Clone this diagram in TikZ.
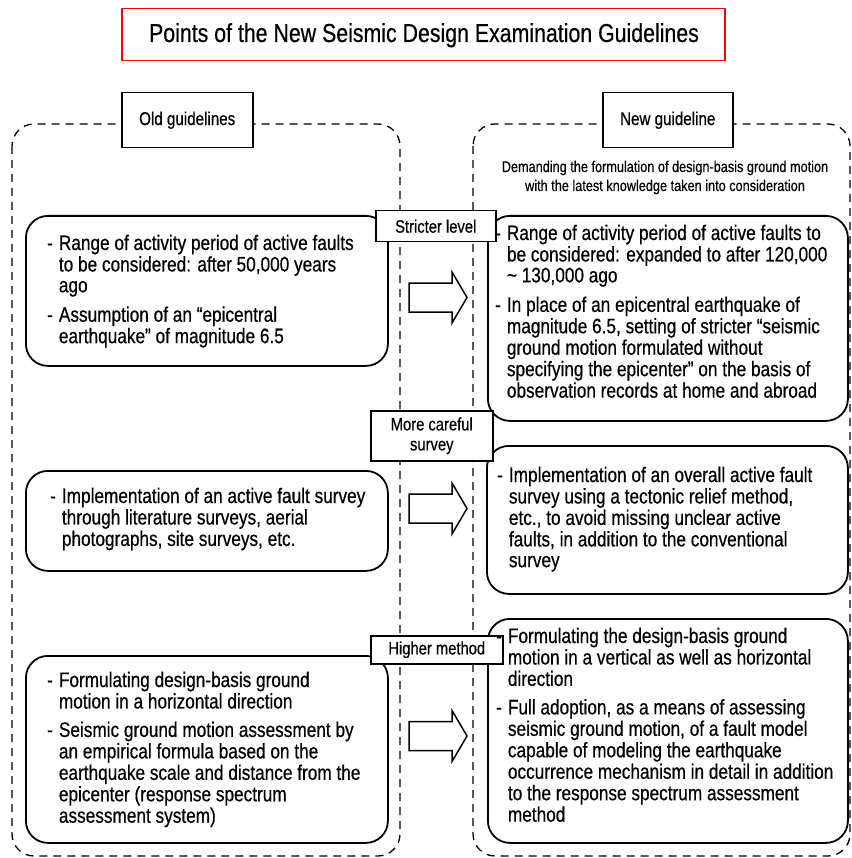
\documentclass[tikz,border=0pt]{standalone}
\usepackage{fontspec}
\newfontfamily\narrowsans{Liberation Sans}[FakeStretch=0.82,FakeBold=0.5]
\begin{document}
\begin{tikzpicture}[x=1pt,y=-1pt,
  container/.style={draw, line width=1.3pt, dash pattern=on 8pt off 6pt, rounded corners=22pt},
  itembox/.style={draw, line width=1.8pt, rounded corners=22pt, fill=white, inner sep=0pt, anchor=north west},
  tagbox/.style={draw, line width=1.5pt, fill=white, inner sep=0pt, anchor=north west, align=center,
    font=\narrowsans\fontsize{18}{20}\selectfont},
  headbox/.style={draw, line width=1.5pt, fill=white, inner sep=0pt, anchor=north west,
    font=\narrowsans\fontsize{18.5}{20}\selectfont},
  bodytext/.style={anchor=base west, inner sep=0pt, font=\narrowsans\fontsize{21}{20.8}\selectfont},
  blockarrow/.pic={\draw[line width=1.5pt, fill=white, line join=miter]
    (0,-14.5) -- (43,-14.5) -- (43,-25.5) -- (58,0) -- (43,25.5) -- (43,14.5) -- (0,14.5) -- cycle;}
]
\useasboundingbox (0,0) rectangle (851,858);

% title
\node[draw=red, line width=1.5pt, minimum width=603pt, minimum height=52pt, inner sep=0pt,
  anchor=north west] (title) at (121,8) {};
\node[anchor=base, inner sep=0pt, font=\narrowsans\fontsize{26}{28}\selectfont] (titletext) at (424,42)
  {Points of the New Seismic Design Examination Guidelines};

% dashed frames for the two guideline columns
\draw[container] (12,124) rectangle (400,856);
\draw[container] (473,124) rectangle (850,856);

% rounded boxes, old guidelines
\node[itembox, minimum width=362pt, minimum height=150pt] (L1) at (25,215) {};
\node[itembox, minimum width=362pt, minimum height=100pt] (L2) at (25,470) {};
\node[itembox, minimum width=362pt, minimum height=187pt] (L3) at (25,655) {};

% rounded boxes, new guideline
\node[itembox, minimum width=360pt, minimum height=205pt] (R1) at (487,215) {};
\node[itembox, minimum width=361pt, minimum height=148pt] (R2) at (486,445) {};
\node[itembox, minimum width=360pt, minimum height=224pt] (R3) at (487,618) {};

% block arrows from old to new
\pic at (409,297.5) {blockarrow};
\pic at (409,508.5) {blockarrow};
\pic at (409,736) {blockarrow};

% column headings
\node[headbox, minimum width=131pt, minimum height=55pt] (old) at (121,92) {Old guidelines};
\node[headbox, minimum width=130pt, minimum height=55pt] (new) at (602,92) {New guideline};

% tags on the arrows
\node[tagbox, minimum width=120pt, minimum height=31pt] (tag1) at (375,210) {Stricter level};
\node[tagbox, minimum width=122pt, minimum height=50pt] (tag2) at (370,410) {More careful\\survey};
\node[tagbox, minimum width=132pt, minimum height=28pt] (tag3) at (370,635) {Higher method};

% subtitle of the new guideline
\node[anchor=base, inner sep=0pt, font=\narrowsans\fontsize{15.5}{19}\selectfont] (sub) at (665,172)
  {\begin{tabular}[t]{@{}c@{}}Demanding the formulation of design-basis ground motion\\
   with the latest knowledge taken into consideration\end{tabular}};

% box texts
\node[bodytext] (L1t) at (47,250) {\begin{tabular}[t]{@{}l@{\hspace{6pt}}l@{}}
- & Range of activity period of active faults\\
  & to be considered: after 50,000 years\\
  & ago\\[8pt]
- & Assumption of an “epicentral\\
  & earthquake” of magnitude 6.5
\end{tabular}};

\node[bodytext] (L2t) at (50,503) {\begin{tabular}[t]{@{}l@{\hspace{6pt}}l@{}}
- & Implementation of an active fault survey\\
  & through literature surveys, aerial\\
  & photographs, site surveys, etc.
\end{tabular}};

\node[bodytext] (L3t) at (47,687) {\begin{tabular}[t]{@{}l@{\hspace{6pt}}l@{}}
- & Formulating design-basis ground\\
  & motion in a horizontal direction\\[7pt]
- & Seismic ground motion assessment by\\
  & an empirical formula based on the\\
  & earthquake scale and distance from the\\
  & epicenter (response spectrum\\
  & assessment system)
\end{tabular}};

\node[bodytext] (R1t) at (495,240) {\begin{tabular}[t]{@{}l@{\hspace{6pt}}l@{}}
- & Range of activity period of active faults to\\
  & be considered: expanded to after 120,000\\
  & \textasciitilde{} 130,000 ago\\[8pt]
- & In place of an epicentral earthquake of\\
  & magnitude 6.5, setting of stricter “seismic\\
  & ground motion formulated without\\
  & specifying the epicenter” on the basis of\\
  & observation records at home and abroad
\end{tabular}};

\node[bodytext] (R2t) at (497,482) {\begin{tabular}[t]{@{}l@{\hspace{6pt}}l@{}}
- & Implementation of an overall active fault\\
  & survey using a tectonic relief method,\\
  & etc., to avoid missing unclear active\\
  & faults, in addition to the conventional\\
  & survey
\end{tabular}};

\node[bodytext] (R3t) at (496,643) {\begin{tabular}[t]{@{}l@{\hspace{6pt}}l@{}}
- & Formulating the design-basis ground\\
  & motion in a vertical as well as horizontal\\
  & direction\\[7pt]
- & Full adoption, as a means of assessing\\
  & seismic ground motion, of a fault model\\
  & capable of modeling the earthquake\\
  & occurrence mechanism in detail in addition\\
  & to the response spectrum assessment\\
  & method
\end{tabular}};
\end{tikzpicture}
\end{document}
